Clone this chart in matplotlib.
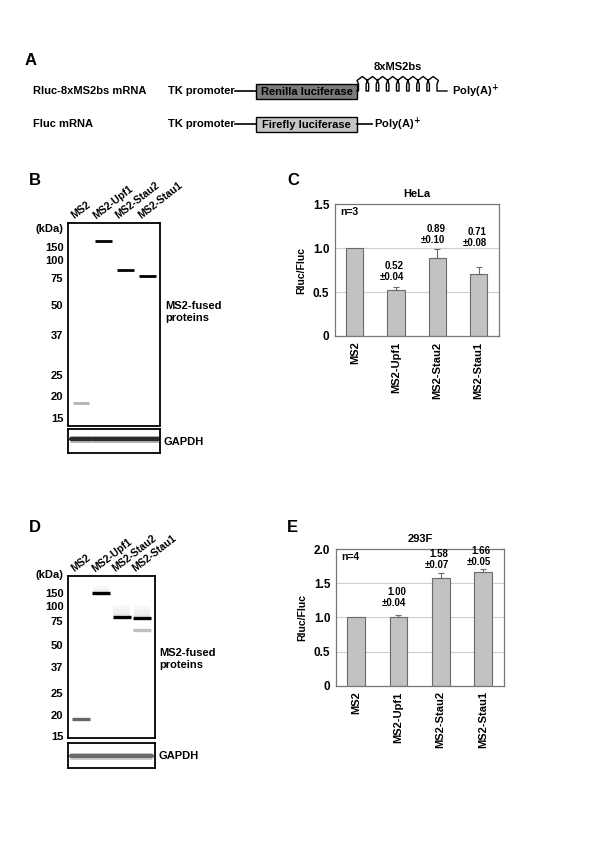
import numpy as np
import matplotlib
matplotlib.use('Agg')
from matplotlib import pyplot as plt
from matplotlib import transforms
from matplotlib.patches import Rectangle

plt.rcParams['font.family'] = ['Liberation Sans', 'DejaVu Sans']
plt.rcParams['font.weight'] = 'bold'
plt.rcParams['axes.titleweight'] = 'bold'
plt.rcParams['axes.labelweight'] = 'bold'

# ---- data ----
constructs = ['Rluc-8xMS2bs mRNA', 'Fluc mRNA']
promoter = 'TK promoter'
orfs = ['Renilla luciferase', 'Firefly luciferase']
n_ms2bs = 8

lanes = ['MS2', 'MS2-Upf1', 'MS2-Stau2', 'MS2-Stau1']
ladder_kda = [150, 100, 75, 50, 37, 25, 20, 15]

# western blot bands: lane index, apparent size (kDa), intensity
hela_band_lane = [0, 1, 2, 3]
hela_band_kda = [18.3, 183, 85, 78]
hela_band_int = [0.3, 1.0, 1.0, 1.0]
f293_band_lane = [0, 1, 2, 3, 3]
f293_band_kda = [18.9, 151, 81, 79, 64]
f293_band_int = [0.6, 1.0, 1.0, 1.0, 0.25]

# Rluc/Fluc ratios
hela_ratio = [1.0, 0.52, 0.89, 0.71]
hela_err = [0.0, 0.04, 0.10, 0.08]
f293_ratio = [1.0, 1.00, 1.58, 1.66]
f293_err = [0.0, 0.04, 0.07, 0.05]

# ---- figure ----
W, H = 600, 849
fig = plt.figure(figsize=(W / 100, H / 100), dpi=100)


def px_axes(x0, y0, x1, y1):
    return fig.add_axes([x0 / W, 1 - y1 / H, (x1 - x0) / W, (y1 - y0) / H])


ov = px_axes(0, 0, W, H)
ov.set_xlim(0, W)
ov.set_ylim(H, 0)
ov.axis('off')

for letter, (lx, ly) in zip('ABCDE', [(25, 60), (29, 180), (287, 180), (29, 527), (287, 527)]):
    ov.text(lx, ly, letter, fontsize=12, va='center', ha='left')

# ---- A: constructs ----
row_y = [91, 124]
orf_colors = ['#7c7c7c', '#c4c4c4']
for i, name in enumerate(constructs):
    y = row_y[i]
    ov.text(33, y, name, fontsize=8, va='center')
    ov.text(168, y, promoter, fontsize=8, va='center')
    ov.plot([235, 256], [y, y], color='k', lw=1.2)
    ov.add_patch(Rectangle((256, y - 7.5), 100.5, 15, facecolor=orf_colors[i],
                           edgecolor='k', lw=1.0))
    ov.text(306.5, y + 0.5, orfs[i], ha='center', va='center', fontsize=8)

# stem loops
y = row_y[0]
x0, x1 = 357, 438
pitch = (x1 - x0) / n_ms2bs
xs, ys = [x0], [y]
for i in range(n_ms2bs):
    a = x0 + i * pitch + pitch * 0.15
    b = x0 + (i + 1) * pitch - pitch * 0.1
    m = (a + b) / 2
    xs += [a, a, a - 1.5, m, b + 1.5, b, b]
    ys += [y, y - 7, y - 10.5, y - 14.5, y - 10.5, y - 7, y]
xs += [447]
ys += [y]
ov.plot(xs, ys, color='k', lw=1.0)
ov.text((x0 + x1) / 2, 67, '8xMS2bs', ha='center', va='center', fontsize=8)
ov.text(452, y, 'Poly(A)$^{+}$', fontsize=8, va='center')
ov.plot([356.5, 372], [row_y[1], row_y[1]], color='k', lw=1.2)
ov.text(374, row_y[1], 'Poly(A)$^{+}$', fontsize=8, va='center')


# ---- B / D: western blots ----
def kda_scale(ax, lad_px, top_px, bot_px):
    lk0 = np.log10(ladder_kda)[::-1]
    ly0 = -np.asarray(lad_px, float)[::-1]
    s_lo = (ly0[1] - ly0[0]) / (lk0[1] - lk0[0])
    s_hi = (ly0[-1] - ly0[-2]) / (lk0[-1] - lk0[-2])
    lk = np.r_[lk0[0] - 3, lk0, lk0[-1] + 3]
    lyy = np.r_[ly0[0] - 3 * s_lo, ly0, ly0[-1] + 3 * s_hi]

    def fwd(v):
        return np.interp(np.log10(np.clip(v, 1e-3, None)), lk, lyy)

    def inv(u):
        return 10 ** np.interp(u, lyy, lk)

    ax.set_yscale('function', functions=(fwd, inv))
    ax.set_ylim(inv(-bot_px), inv(-top_px))


def blot(box, gbox, lad_px, xlim, b_lane, b_kda, b_int, bw, blw, gapdh_y, gapdh_col,
         fused_y, kda_y):
    ax = px_axes(*box)
    kda_scale(ax, lad_px, box[1], box[3])
    ax.set_xlim(*xlim)
    for ln, k, it in zip(b_lane, b_kda, b_int):
        ax.plot([ln - bw / 2, ln + bw / 2], [k, k], color='k', lw=blw, alpha=it,
                solid_capstyle='butt')
    ax.set_xticks([])
    ax.set_yticks(ladder_kda, [str(k) for k in ladder_kda])
    ax.tick_params(axis='y', length=0, pad=3.5, labelsize=8)
    for s in ax.spines.values():
        s.set_linewidth(1.3)
    tr = transforms.blended_transform_factory(ax.transData, ax.transAxes)
    for i, name in enumerate(lanes):
        ax.text(i - 0.25, 1.012, name, transform=tr, rotation=38, rotation_mode='anchor',
                ha='left', va='bottom', fontsize=7.5)

    gx = px_axes(*gbox)
    gx.set_xlim(*xlim)
    gx.set_ylim(0, 1)
    for i in range(len(lanes)):
        gx.plot([i - 0.5, i + 0.5], [gapdh_y, gapdh_y], color=gapdh_col, lw=5, alpha=0.35,
                solid_capstyle='butt')
        gx.plot([i - 0.47, i + 0.47], [gapdh_y, gapdh_y], color=gapdh_col, lw=3,
                solid_capstyle='round')
    gx.set_xticks([])
    gx.set_yticks([])
    for s in gx.spines.values():
        s.set_linewidth(1.3)

    ov.text(63, kda_y, '(kDa)', ha='right', va='center', fontsize=8)
    ov.text(box[2] + 4, (gbox[1] + gbox[3]) / 2 + 1, 'GAPDH', va='center', fontsize=8)
    ov.text(box[2] + 5, fused_y, 'MS2-fused\nproteins', va='center', fontsize=8,
            linespacing=1.25)
    return ax


blot((68.3, 223.3, 160, 425.5), (68.3, 428.5, 160, 452.7),
     [247.3, 260, 278.3, 305, 335, 375, 396, 418.3], (-0.57, 3.55),
     hela_band_lane, hela_band_kda, hela_band_int, 0.75, 2.0, 0.55, '#2a2a2a', 312, 228.5)
axd = blot((68.3, 575.7, 154.7, 738.3), (68.3, 742.7, 154.7, 767.7),
           [593.3, 605.7, 621, 645, 666.7, 693.3, 715, 735.7], (-0.6, 3.62),
           f293_band_lane, f293_band_kda, f293_band_int, 0.88, 2.4, 0.48, '#6a6a6a',
           659.5, 574.5)
# faint smear above the strong bands in D
for ln, k in zip([1, 2, 3], [151, 81, 79]):
    for f in [1.08, 1.16, 1.25]:
        axd.fill_between([ln - 0.4, ln + 0.4], k, k * f, color='#999999', alpha=0.07, lw=0)


# ---- C / E: Rluc/Fluc bar charts ----
def bars(box, ratio, err, ymax, n_text, title, xlim, lab_y):
    ax = px_axes(*box)
    x = np.arange(len(lanes))
    ax.bar(x, ratio, width=0.42, color='#c2c2c2', edgecolor='#6a6a6a', linewidth=0.8, zorder=2)
    ax.errorbar(x[1:], ratio[1:], yerr=[np.zeros(len(x) - 1), err[1:]], fmt='none',
                ecolor='#6a6a6a', elinewidth=0.8, capsize=2, capthick=0.8, zorder=3)
    ax.set_xlim(*xlim)
    ax.set_ylim(0, ymax)
    yt = np.arange(0, ymax + 0.01, 0.5)
    ax.set_yticks(yt, ['0'] + ['%.1f' % v for v in yt[1:]])
    ax.yaxis.grid(True, color='#cfcfcf', lw=0.8)
    ax.set_axisbelow(True)
    ax.tick_params(axis='y', length=0, pad=4, labelsize=8.5)
    ax.set_xticks(x, lanes, rotation=90, fontsize=8)
    ax.tick_params(axis='x', length=0, pad=4)
    for s in ax.spines.values():
        s.set_color('#777777')
        s.set_linewidth(0.9)
    ax.set_ylabel('Rluc/Fluc', fontsize=7.5, labelpad=5)
    ax.set_title(title, fontsize=8, pad=5)
    ax.text(0.03, 0.94, n_text, transform=ax.transAxes, fontsize=7.5, va='center')
    for i in range(1, len(x)):
        ax.annotate('%.2f' % ratio[i], (i + 0.19, lab_y[i]), xytext=(0, 11),
                    textcoords='offset pixels', ha='right', va='center', fontsize=7)
        ax.text(i + 0.19, lab_y[i], '±%.2f' % err[i], ha='right', va='center', fontsize=7)
    return ax


bars((335, 204.3, 499.3, 336), hela_ratio, hela_err, 1.5, 'n=3', 'HeLa', (-0.48, 3.5),
     [None, 0.675, 1.093, 1.056])
bars((336, 549, 504, 685.7), f293_ratio, f293_err, 2.0, 'n=4', '293F', (-0.48, 3.5),
     [None, 1.21, 1.766, 1.81])

fig.savefig('out.png', dpi=100, facecolor='white')
